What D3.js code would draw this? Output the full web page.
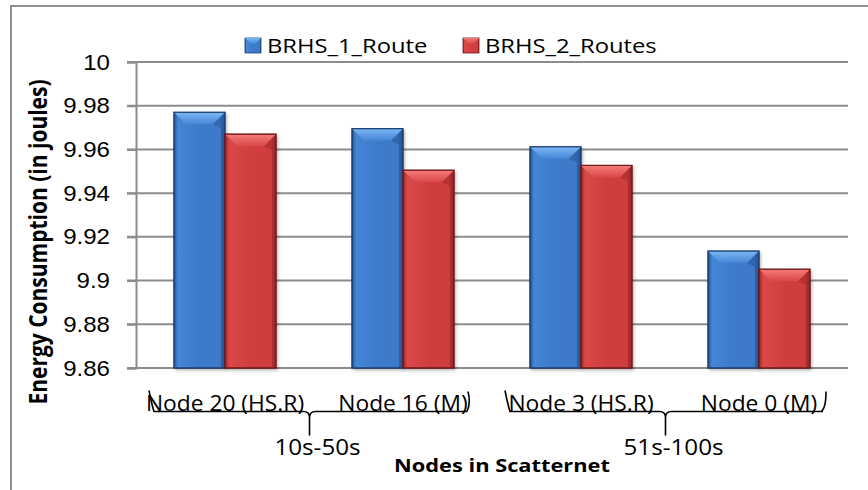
<!DOCTYPE html>
<html>
<head>
<meta charset="utf-8">
<script src="https://cdn.jsdelivr.net/npm/d3@7"></script>
<style>
  html, body { margin: 0; padding: 0; background: #fff; }
  svg { display: block; font-family: "Open Sans", sans-serif; }
</style>
</head>
<body>
<svg id="chart" width="868" height="490"></svg>
<script>
// ---- data ----
const categories = ["Node 20 (HS.R)", "Node 16 (M)", "Node 3 (HS.R)", "Node 0 (M)"];
const groupLabels = ["10s-50s", "51s-100s"];
const seriesNames = ["BRHS_1_Route", "BRHS_2_Routes"];
const route1 = [9.977, 9.9695, 9.9612, 9.9135];
const route2 = [9.967, 9.9505, 9.9527, 9.9052];
const yTicks = [9.86, 9.88, 9.9, 9.92, 9.94, 9.96, 9.98, 10];
const yDomain = [9.86, 10];
const xTitle = "Nodes in Scatternet";
const yTitle = "Energy Consumption (in joules)";

// ---- layout ----
const plot = { left: 136, right: 848, top: 62, bottom: 368 };
const svg = d3.select("#chart");
const STRETCH = 1.15;

const x0 = d3.scaleBand().domain(categories).range([plot.left, plot.right]);
const x1 = d3.scaleBand().domain(seriesNames).range([0, x0.bandwidth()]).paddingOuter(0.745);
const y = d3.scaleLinear().domain(yDomain).range([plot.bottom, plot.top]);

const palette = {
  BRHS_1_Route: { light: "#7ab4f2", mid: "#4486d6", main: "#3c7ac9", dark: "#25528f", edge: "#1d3f70" },
  BRHS_2_Routes: { light: "#f47a7a", mid: "#da4848", main: "#d03e3e", dark: "#962626", edge: "#6e1818" }
};

const defs = svg.append("defs");
Object.entries(palette).forEach(([k, c], i) => {
  const h = defs.append("linearGradient").attr("id", "body" + i).attr("x1", 0).attr("x2", 1).attr("y1", 0).attr("y2", 0);
  h.append("stop").attr("offset", "0%").attr("stop-color", c.dark);
  h.append("stop").attr("offset", "8%").attr("stop-color", c.mid);
  h.append("stop").attr("offset", "50%").attr("stop-color", c.main);
  h.append("stop").attr("offset", "90%").attr("stop-color", c.main);
  h.append("stop").attr("offset", "100%").attr("stop-color", c.dark);
  const t = defs.append("linearGradient").attr("id", "top" + i).attr("x1", 0).attr("x2", 0).attr("y1", 0).attr("y2", 1);
  t.append("stop").attr("offset", "0%").attr("stop-color", c.light);
  t.append("stop").attr("offset", "100%").attr("stop-color", c.mid);
});
const shadow = defs.append("filter").attr("id", "shadow").attr("x", "-20%").attr("y", "-5%").attr("width", "140%").attr("height", "115%");
shadow.append("feDropShadow").attr("dx", 1.5).attr("dy", 2).attr("stdDeviation", 1.8).attr("flood-color", "#000").attr("flood-opacity", 0.28);

function label(g, x, yy, str, opts) {
  const o = Object.assign({ size: 20, weight: 400, anchor: "middle", sx: STRETCH }, opts);
  return g.append("text")
    .attr("transform", `translate(${x},${yy}) scale(${o.sx},1)`)
    .attr("text-anchor", o.anchor)
    .attr("font-size", o.size)
    .attr("font-weight", o.weight)
    .attr("fill", "#000")
    .text(str);
}

// chart frame (top and left edges)
svg.append("path").attr("d", "M11,490 V6 H868").attr("fill", "none").attr("stroke", "#8f8f8f").attr("stroke-width", 2);

// gridlines
svg.append("g").selectAll("line").data(yTicks).join("line")
  .attr("x1", plot.left - 9).attr("x2", plot.right)
  .attr("y1", d => y(d)).attr("y2", d => y(d))
  .attr("stroke", "#8c8c8c").attr("stroke-width", 2);

// y axis
const yAxis = svg.append("g").attr("transform", `translate(${plot.left},0)`)
  .call(d3.axisLeft(y).tickValues(yTicks).tickFormat(d => String(d)).tickSize(9).tickPadding(0));
yAxis.select(".domain").attr("stroke", "#8c8c8c").attr("stroke-width", 2);
yAxis.selectAll(".tick line").attr("stroke", "#8c8c8c").attr("stroke-width", 2);
yAxis.selectAll(".tick text").remove();
yAxis.selectAll(".tick").each(function (d) {
  label(d3.select(this), -26, 7, String(d), { size: 21.5, anchor: "end", sx: 1.12 });
});

// bars
const rows = categories.map((c, i) => ({ cat: c, vals: [route1[i], route2[i]] }));
const bevel = 12;
rows.forEach(r => {
  r.vals.forEach((v, si) => {
    const s = seriesNames[si];
    const bx = x0(r.cat) + x1(s);
    const bw = x1.bandwidth();
    const by = y(v);
    const bh = y(yDomain[0]) - by;
    const g = svg.append("g");
    g.append("rect").attr("x", bx).attr("y", by).attr("width", bw).attr("height", bh)
      .attr("fill", `url(#body${si})`).attr("stroke", palette[s].edge).attr("stroke-width", 1)
      .attr("filter", "url(#shadow)");
    g.append("path")
      .attr("d", `M${bx + 0.5},${by + 0.5} H${bx + bw - 0.5} L${bx + bw - bevel},${by + bevel} H${bx + bevel} Z`)
      .attr("fill", `url(#top${si})`);
    g.append("path")
      .attr("d", `M${bx + bw - 0.5},${by + 0.5} L${bx + bw - bevel},${by + bevel} L${bx + bw - 4},${by + bevel + 4} V${by + bh} H${bx + bw - 0.5} Z`)
      .attr("fill", palette[s].dark).attr("opacity", 0.45);
    g.append("rect").attr("x", bx).attr("y", by).attr("width", bw).attr("height", bh)
      .attr("fill", "none").attr("stroke", palette[s].edge).attr("stroke-width", 1);
  });
});

// legend
const legend = svg.append("g");
const legendX = [245, 463];
seriesNames.forEach((s, i) => {
  const lx = legendX[i];
  legend.append("rect").attr("x", lx).attr("y", 38).attr("width", 16).attr("height", 15)
    .attr("fill", `url(#body${i})`).attr("stroke", palette[s].edge).attr("stroke-width", 0.8);
  legend.append("path").attr("d", `M${lx},38 H${lx + 16} L${lx + 10},44 H${lx + 6} Z`).attr("fill", `url(#top${i})`);
  label(legend, lx + 22, 53, s, { size: 20.5, anchor: "start", sx: 1.16 });
});

// category labels
const catY = 411;
categories.forEach(c => {
  label(svg, x0(c) + x0.bandwidth() / 2, catY, c, { size: 21.5, sx: 1.06 });
});

// group braces with group labels
const bl = svg.append("g").attr("fill", "none").attr("stroke", "#000").attr("stroke-width", 1.6);
groupLabels.forEach((gl, gi) => {
  const a = categories[gi * 2], b = categories[gi * 2 + 1];
  const ca = x0(a) + x0.bandwidth() / 2, cb = x0(b) + x0.bandwidth() / 2;
  const left = ca - 75, right = cb + 66;
  const mid = (left + right) / 2;
  const yl = catY + 0.5;
  const rightEnd = gi === 0
    ? `M${right - 2},${yl} Q${right + 2},${yl - 8} ${right - 1},${yl - 20}`
    : `M${right - 4},${yl} Q${right + 1},${yl - 3} ${right + 1},${yl - 20}`;
  bl.append("path").attr("d",
    `M${left - 1},${yl - 21} Q${left + 2},${yl - 6} ${left + 4},${yl}` +
    ` H${mid - 6} Q${mid},${yl} ${mid},${yl + 6} V${yl + 24}` +
    ` M${mid},${yl + 6} Q${mid},${yl} ${mid + 6},${yl} H${right - 2} ` + rightEnd);
  label(svg, mid + 8, 455, gl, { size: 22, sx: 1.1 });
});

// axis titles
label(svg, (plot.left + plot.right) / 2 + 10, 472, xTitle, { size: 18.5, weight: 700, sx: 1.18 });
svg.append("text")
  .attr("transform", `translate(47,242) rotate(-90) scale(1,1.2)`)
  .attr("text-anchor", "middle").attr("font-size", 21).attr("font-weight", 700).attr("fill", "#000")
  .text(yTitle);
</script>
</body>
</html>
